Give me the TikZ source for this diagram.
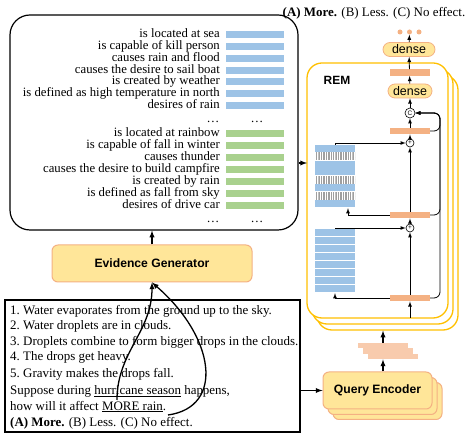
\documentclass[tikz,border=0pt]{standalone}
\usepackage{fontspec}
\setmainfont{Liberation Serif}
\setsansfont{Liberation Sans}
\usetikzlibrary{calc,patterns.meta}
\definecolor{membar}{HTML}{9DC3E6}
\definecolor{evbar}{HTML}{A9D18E}
\definecolor{hidbar}{HTML}{F4B183}
\definecolor{embbar}{HTML}{F8CBAD}
\definecolor{modfill}{HTML}{FFE699}
\definecolor{modline}{HTML}{F4B183}
\definecolor{remline}{HTML}{FFC000}
\tikzset{
  evtext/.style={anchor=east,inner sep=0pt,text height=9bp,text depth=3bp,font=\fontsize{12.8}{13}\selectfont},
  evdots/.style={inner sep=0pt,text height=9bp,text depth=3bp,font=\fontsize{12.8}{13}\selectfont},
  ctxtext/.style={anchor=west,inner sep=0pt,text height=9bp,text depth=3bp,font=\fontsize{13}{15}\selectfont},
  bluebar/.style={fill=membar,inner sep=0pt,minimum width=58bp,minimum height=7bp},
  greenbar/.style={fill=evbar,inner sep=0pt,minimum width=58bp,minimum height=7bp},
  module/.style={draw=modline,fill=modfill,line width=1bp,rounded corners=6bp,font=\sffamily\bfseries\fontsize{12.2}{14}\selectfont},
  rembox/.style={draw=remline,fill=white,line width=1.3bp,rounded corners=15bp,minimum width=141bp,minimum height=255bp},
  dense/.style={draw=modline,fill=modfill,line width=0.8bp,rounded corners=7bp,inner sep=0pt,minimum height=14bp,font=\sffamily\fontsize{12.5}{13}\selectfont},
  hidden/.style={fill=hidbar,inner sep=0pt,minimum width=40bp,minimum height=6.5bp},
  embed/.style={fill=embbar,inner sep=0pt,minimum width=50bp,minimum height=5.5bp},
  opcirc/.style={draw,circle,fill=white,inner sep=0pt,minimum size=8bp,line width=0.6bp,font=\sffamily\fontsize{6.5}{6.5}\selectfont},
  outdot/.style={circle,fill=hidbar,inner sep=0pt,minimum size=5bp},
  stripe/.style={fill=white,pattern={Lines[angle=90,distance=1.7bp,line width=0.7bp]},pattern color=gray!75},
  flow/.style={->,line width=0.8bp},
  bigflow/.style={->,line width=1.3bp}
}
\begin{document}
\begin{tikzpicture}[>=latex]
  \useasboundingbox (0bp,0bp) rectangle (475bp,437bp);
  % evidence list
  \node (evid) at (154bp,314.5bp) [draw,rounded corners=20bp,line width=1.2bp,minimum width=288bp,minimum height=215bp] {};
  \node (ev1) at (220bp,402.5bp) [evtext] {is located at sea};
  \node (ev2) at (220bp,390.5bp) [evtext] {is capable of kill person};
  \node (ev3) at (220bp,378.5bp) [evtext] {causes rain and flood};
  \node (ev4) at (220bp,366.5bp) [evtext] {causes the desire to sail boat};
  \node (ev5) at (220bp,355bp) [evtext] {is created by weather};
  \node (ev6) at (220bp,343bp) [evtext] {is defined as high temperature in north};
  \node (ev7) at (220bp,331bp) [evtext] {desires of rain};
  \node (evd1) at (213bp,317bp) [evdots] {\dots};
  \node (ev8) at (220bp,303bp) [evtext] {is located at rainbow};
  \node (ev9) at (220bp,291bp) [evtext] {is capable of fall in winter};
  \node (ev10) at (220bp,279bp) [evtext] {causes thunder};
  \node (ev11) at (220bp,267bp) [evtext] {causes the desire to build campfire};
  \node (ev12) at (220bp,255bp) [evtext] {is created by rain};
  \node (ev13) at (220bp,243.5bp) [evtext] {is defined as fall from sky};
  \node (ev14) at (220bp,231.5bp) [evtext] {desires of drive car};
  \node (evd2) at (213bp,217bp) [evdots] {\dots};
  \node (b1) at (255bp,402.5bp) [bluebar] {};
  \node (b2) at (255bp,390.5bp) [bluebar] {};
  \node (b3) at (255bp,378.5bp) [bluebar] {};
  \node (b4) at (255bp,366.5bp) [bluebar] {};
  \node (b5) at (255bp,355bp) [bluebar] {};
  \node (b6) at (255bp,343bp) [bluebar] {};
  \node (b7) at (255bp,331bp) [bluebar] {};
  \node (bd1) at (257bp,317bp) [evdots] {\dots};
  \node (b8) at (255bp,303bp) [greenbar] {};
  \node (b9) at (255bp,291bp) [greenbar] {};
  \node (b10) at (255bp,279bp) [greenbar] {};
  \node (b11) at (255bp,267bp) [greenbar] {};
  \node (b12) at (255bp,255bp) [greenbar] {};
  \node (b13) at (255bp,243.5bp) [greenbar] {};
  \node (b14) at (255bp,231.5bp) [greenbar] {};
  \node (bd2) at (257bp,217bp) [evdots] {\dots};
  % generator and context
  \node (gen) at (152bp,173.5bp) [module,minimum width=200bp,minimum height=37bp] {Evidence Generator};
  \node (ctx) at (152.5bp,71bp) [draw,line width=1.3bp,minimum width=295bp,minimum height=132bp] {};
  \node (c1) at (10bp,125bp) [ctxtext] {1.\ Water evaporates from the ground up to the sky.};
  \node (c2) at (10bp,110bp) [ctxtext] {2.\ Water droplets are in clouds.};
  \node (c3) at (10bp,94bp) [ctxtext] {3.\ Droplets combine to form bigger drops in the clouds.};
  \node (c4) at (10bp,79bp) [ctxtext] {4.\ The drops get heavy.};
  \node (c5) at (10bp,62bp) [ctxtext] {5.\ Gravity makes the drops fall.};
  \node (c6) at (10bp,45bp) [ctxtext] {Suppose during \underline{hurricane season} happens,};
  \node (c7) at (10bp,30bp) [ctxtext] {how will it affect \underline{MORE rain}.};
  \node (c8) at (10bp,14bp) [ctxtext] {\textbf{(A) More.} (B) Less. (C) No effect.};
  \node (ans) at (374bp,424bp) [font=\fontsize{13}{15}\selectfont,inner sep=0pt] {\textbf{(A) More.} (B) Less. (C) No effect.};
  \coordinate (hur) at (117bp,37bp);
  \coordinate (opt) at (168bp,22bp);
  \draw [bigflow] (hur) .. controls (117bp,85bp) and (152bp,105bp) .. (gen.south);
  \draw [bigflow] (opt) .. controls (225bp,30bp) and (215bp,100bp) .. (gen.south);
  \draw [bigflow] (gen) -- (gen.north |- evid.south);
  % REM
  \node (rem3) at (387.5bp,234.5bp) [rembox] {};
  \node (rem2) at (382.5bp,240.5bp) [rembox] {};
  \node (rem1) at (377.5bp,246.5bp) [rembox] {};
  \node (remlabel) at (337bp,357bp) [font=\sffamily\bfseries\fontsize{12}{14}\selectfont] {REM};
  \coordinate (remin) at (307bp,274bp);
  \draw [bigflow] (evid.east |- remin) -- (remin);
  \node (o1) at (400bp,405bp) [outdot] {};
  \node (o2) at (409.5bp,405bp) [outdot] {};
  \node (o3) at (419bp,405bp) [outdot] {};
  \node (dense2) at (409bp,387.5bp) [dense,minimum width=52bp] {dense};
  \node (h1) at (409.5bp,364.5bp) [hidden] {};
  \node (dense1) at (410bp,346bp) [dense,minimum width=44bp] {dense};
  \node (cat) at (410bp,324bp) [opcirc,minimum size=10bp] {C};
  \node (h2) at (410bp,306bp) [hidden] {};
  \node (add1) at (410bp,294bp) [opcirc] {+};
  \node (h3) at (410bp,222bp) [hidden] {};
  \node (add2) at (410bp,209bp) [opcirc] {+};
  \node (h4) at (410bp,139bp) [hidden] {};
  \coordinate (rin) at (410bp,119bp);
  \coordinate (skip) at (440bp,324bp);
  % memory slots
  \node (memA) at (335bp,260.5bp) [inner sep=0pt,minimum width=40bp,minimum height=63bp] {};
  \fill [membar] (315bp,292bp) rectangle (355bp,285bp);
  \fill [stripe] (315bp,284bp) rectangle (355bp,277bp);
  \fill [membar] (315bp,276bp) rectangle (355bp,269bp);
  \fill [membar] (315bp,268.5bp) rectangle (355bp,261.5bp);
  \fill [stripe] (315bp,260.5bp) rectangle (355bp,253.5bp);
  \fill [membar] (315bp,252.5bp) rectangle (355bp,245.5bp);
  \fill [stripe] (315bp,244.5bp) rectangle (355bp,237.5bp);
  \fill [membar] (315bp,236.5bp) rectangle (355bp,229.5bp);
  \node (memB) at (335bp,176bp) [inner sep=0pt,minimum width=40bp,minimum height=64bp] {};
  \fill [membar] (315bp,208bp) rectangle (355bp,201bp);
  \fill [membar] (315bp,200bp) rectangle (355bp,193bp);
  \fill [membar] (315bp,192bp) rectangle (355bp,185bp);
  \fill [membar] (315bp,184bp) rectangle (355bp,177bp);
  \fill [membar] (315bp,176bp) rectangle (355bp,169bp);
  \fill [membar] (315bp,168bp) rectangle (355bp,161bp);
  \fill [membar] (315bp,160bp) rectangle (355bp,153bp);
  \fill [membar] (315bp,152bp) rectangle (355bp,145bp);
  \draw [flow] (rin) -- (h4);
  \draw [flow] (h4) -- (add2);
  \draw [flow] (memB.north) |- (add2);
  \draw [flow] (h4.west) -| (memB.south);
  \draw [flow] (add2) -- (h3);
  \draw [flow] (h3) -- (add1);
  \draw [flow] (memA.north) |- (add1);
  \draw [flow] (h3.west) -| ($(memA.south)+(13bp,0)$);
  \draw [flow] (add1) -- (h2);
  \draw [flow] (h2) -- (cat);
  \draw [flow] (cat) -- (dense1);
  \draw [flow] (dense1) -- (h1);
  \draw [flow] (h1) -- (dense2);
  \draw [flow] (dense2) -- (o2);
  \draw [flow,rounded corners=6bp] (h2.east) -| (skip) -- (cat);
  \draw [flow,rounded corners=6bp] (h3.east) -| (skip) -- (cat);
  \draw [flow,rounded corners=6bp] (h4.east) -| (skip) -- (cat);
  % query side
  \node (qenc3) at (387.5bp,36bp) [module,minimum width=109bp,minimum height=37bp] {};
  \node (qenc2) at (382.5bp,41bp) [module,minimum width=109bp,minimum height=37bp] {};
  \node (qenc) at (377.5bp,46.5bp) [module,minimum width=109bp,minimum height=37bp] {Query Encoder};
  \node (e1) at (383bp,91.5bp) [embed] {};
  \node (e2) at (388bp,86bp) [embed] {};
  \node (e3) at (393bp,80.5bp) [embed] {};
  \draw [bigflow] (ctx.east |- qenc.west) -- (qenc.west);
  \draw [bigflow] (qenc.north -| e1) -- (e3.south -| e1);
  \draw [bigflow] (e1.north) -- (e1.north |- rem3.south);
\end{tikzpicture}
\end{document}
